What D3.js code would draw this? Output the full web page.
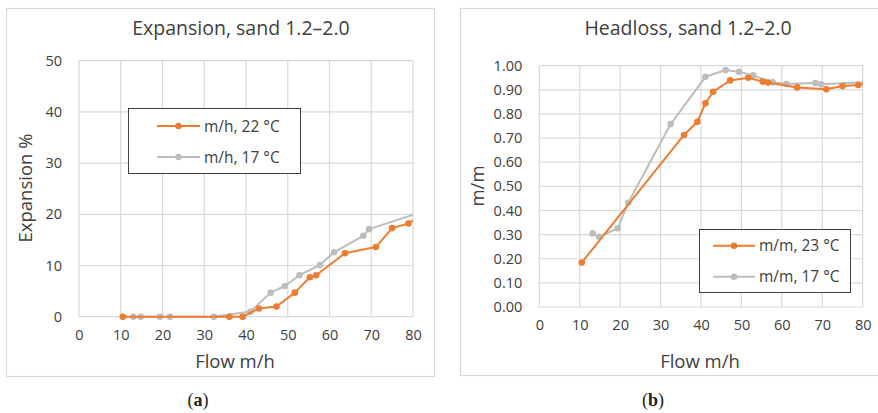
<!DOCTYPE html>
<html>
<head>
<meta charset="utf-8">
<script src="https://cdn.jsdelivr.net/npm/d3@7"></script>
<style>
  html, body { margin: 0; padding: 0; background: #fff; }
  svg { display: block; }
  text { font-family: "Open Sans", Lato, sans-serif; }
</style>
</head>
<body>
<svg id="fig" width="878" height="413"></svg>
<script>
// ---- Expansion data (panel a) ----
const expFlow22 = [10.5, 36.0, 39.2, 43.1, 47.3, 51.7, 55.3, 56.8, 63.7, 71.1, 75.0, 78.9, 82.0];
const expVal22  = [0, 0, 0, 1.6, 2.0, 4.7, 7.7, 8.1, 12.4, 13.6, 17.3, 18.2, 19.8];
const expFlow17 = [13.0, 14.8, 19.4, 21.8, 32.3, 41.1, 45.9, 49.3, 52.8, 57.7, 61.1, 68.1, 69.5, 83.0];
const expVal17  = [0, 0, 0, 0, 0, 1.0, 4.7, 6.0, 8.1, 10.1, 12.6, 15.8, 17.1, 20.7];

// ---- Headloss data (panel b) ----
const hlFlow23 = [10.5, 35.8, 39.1, 41.1, 43.0, 47.2, 51.7, 55.3, 56.6, 63.8, 71.0, 75.0, 78.9, 82.0];
const hlVal23  = [0.184, 0.713, 0.768, 0.844, 0.892, 0.939, 0.950, 0.934, 0.930, 0.910, 0.902, 0.916, 0.920, 0.930];
const hlFlow17 = [13.2, 14.8, 19.4, 22.0, 32.5, 41.1, 46.1, 49.4, 52.9, 57.7, 61.1, 68.3, 69.7, 82.0];
const hlVal17  = [0.305, 0.291, 0.326, 0.432, 0.758, 0.954, 0.982, 0.975, 0.960, 0.931, 0.924, 0.928, 0.923, 0.933];

// ---- Axis ticks ----
const xTicks = [0, 10, 20, 30, 40, 50, 60, 70, 80];
const expTicks = [0, 10, 20, 30, 40, 50];
const hlTicks = [0, 0.1, 0.2, 0.3, 0.4, 0.5, 0.6, 0.7, 0.8, 0.9, 1.0];

const ORANGE = "#ED7D31";
const GREY = "#BDBDBD";
const GRID = "#D9D9D9";
const INK = "#404040";

const svg = d3.select("#fig");

function panel(cfg) {
  const g = svg.append("g");

  // chart frame
  g.append("rect")
    .attr("x", cfg.frame[0] + 0.5).attr("y", cfg.frame[1] + 0.5)
    .attr("width", cfg.frame[2]).attr("height", cfg.frame[3])
    .attr("fill", "#fff").attr("stroke", GRID).attr("stroke-width", 1.2);

  const x = d3.scaleLinear().domain([0, 80]).range([cfg.plot.left, cfg.plot.right]);
  const y = d3.scaleLinear().domain(cfg.yDomain).range([cfg.plot.bottom, cfg.plot.top]);

  // gridlines
  g.append("g").selectAll("line").data(xTicks).join("line")
    .attr("x1", d => x(d)).attr("x2", d => x(d))
    .attr("y1", y(cfg.yDomain[0])).attr("y2", y(cfg.yDomain[1]))
    .attr("stroke", GRID).attr("stroke-width", 1.2);
  g.append("g").selectAll("line").data(cfg.yTicks).join("line")
    .attr("x1", x(0)).attr("x2", x(80))
    .attr("y1", d => y(d)).attr("y2", d => y(d))
    .attr("stroke", GRID).attr("stroke-width", 1.2);

  // axes (labels only; gridlines act as axis lines)
  const xAxis = g.append("g")
    .attr("transform", `translate(0,${cfg.plot.bottom + 7})`)
    .call(d3.axisBottom(x).tickValues(xTicks).tickSize(0).tickPadding(6));
  const yAxis = g.append("g")
    .attr("transform", `translate(${cfg.plot.left - 13},0)`)
    .call(d3.axisLeft(y).tickValues(cfg.yTicks).tickSize(0).tickPadding(4).tickFormat(cfg.yFormat));
  [xAxis, yAxis].forEach(a => {
    a.select(".domain").remove();
    a.selectAll("text").attr("font-size", 14.5).attr("fill", INK)
      .style("font-family", "'Open Sans', Lato, sans-serif");
  });

  // titles
  g.append("text").attr("x", cfg.titleX).attr("y", 35)
    .attr("text-anchor", "middle").attr("font-size", 19.5).attr("fill", INK)
    .text(cfg.title);
  g.append("text").attr("x", cfg.xTitleX).attr("y", 368)
    .attr("text-anchor", "middle").attr("font-size", 18.5).attr("fill", INK)
    .text("Flow m/h");
  g.append("text")
    .attr("transform", `translate(${cfg.yTitleX},${cfg.yTitleY}) rotate(-90)`)
    .attr("text-anchor", "middle").attr("font-size", 18.5).attr("fill", INK)
    .text(cfg.yTitle);

  // series, clipped to the plot area
  const clipId = "clip-" + cfg.id;
  g.append("clipPath").attr("id", clipId).append("rect")
    .attr("x", cfg.plot.left - 4).attr("y", cfg.plot.top - 6)
    .attr("width", cfg.plot.right - cfg.plot.left + 4)
    .attr("height", cfg.plot.bottom - cfg.plot.top + 12);
  const plotG = g.append("g").attr("clip-path", `url(#${clipId})`);
  const line = d3.line().x(d => x(d[0])).y(d => y(d[1]));

  cfg.series.slice().reverse().forEach(s => {
    const pts = s.flow.map((f, i) => [f, s.val[i]]);
    plotG.append("path").datum(pts).attr("d", line)
      .attr("fill", "none").attr("stroke", s.color).attr("stroke-width", 2)
      .attr("stroke-linejoin", "round");
    plotG.append("g").selectAll("circle").data(pts.filter(p => p[0] <= 80)).join("circle")
      .attr("cx", d => x(d[0])).attr("cy", d => y(d[1])).attr("r", 3.3)
      .attr("fill", s.color);
  });

  // legend
  const L = cfg.legend;
  const lg = g.append("g");
  lg.append("rect").attr("x", L.x + 0.5).attr("y", L.y + 0.5)
    .attr("width", L.w).attr("height", L.h)
    .attr("fill", "#fff").attr("stroke", INK).attr("stroke-width", 1);
  cfg.series.forEach((s, i) => {
    const cy = L.rows[i];
    lg.append("line").attr("x1", L.lineX0).attr("x2", L.lineX1)
      .attr("y1", cy).attr("y2", cy).attr("stroke", s.color).attr("stroke-width", 2);
    lg.append("circle").attr("cx", (L.lineX0 + L.lineX1) / 2).attr("cy", cy)
      .attr("r", 3.3).attr("fill", s.color);
    lg.append("text").attr("x", L.textX).attr("y", cy + 5.5)
      .attr("font-size", 15.5).attr("fill", INK).text(s.name);
  });

  // caption
  svg.append("text").attr("x", cfg.capX).attr("y", 406)
    .attr("text-anchor", "middle").attr("font-size", 18)
    .style("font-family", "'Liberation Serif', 'DejaVu Serif', serif")
    .attr("fill", "#222")
    .html(`(<tspan font-weight="bold">${cfg.cap}</tspan>)`);
}

panel({
  id: "a",
  frame: [6, 8, 428, 368],
  plot: { left: 79, right: 413, top: 60.7, bottom: 316.7 },
  yDomain: [0, 50], yTicks: expTicks, yFormat: d3.format("d"),
  title: "Expansion, sand 1.2–2.0", titleX: 241,
  xTitleX: 235, yTitle: "Expansion %", yTitleX: 32, yTitleY: 188,
  series: [
    { name: "m/h, 22 °C", flow: expFlow22, val: expVal22, color: ORANGE },
    { name: "m/h, 17 °C", flow: expFlow17, val: expVal17, color: GREY }
  ],
  legend: { x: 128, y: 108, w: 172, h: 65, rows: [126, 157], lineX0: 157, lineX1: 200, textX: 204 },
  capX: 198, cap: "a"
});

panel({
  id: "b",
  frame: [460, 8, 430, 367],
  plot: { left: 539.3, right: 862.7, top: 65.7, bottom: 307 },
  yDomain: [0, 1], yTicks: hlTicks, yFormat: d3.format(".2f"),
  title: "Headloss, sand 1.2–2.0", titleX: 688,
  xTitleX: 700, yTitle: "m/m", yTitleX: 484, yTitleY: 186,
  series: [
    { name: "m/m, 23 °C", flow: hlFlow23, val: hlVal23, color: ORANGE },
    { name: "m/m, 17 °C", flow: hlFlow17, val: hlVal17, color: GREY }
  ],
  legend: { x: 699, y: 229, w: 151, h: 63, rows: [245.7, 276.7], lineX0: 713, lineX1: 755, textX: 759 },
  capX: 653, cap: "b"
});
</script>
</body>
</html>
